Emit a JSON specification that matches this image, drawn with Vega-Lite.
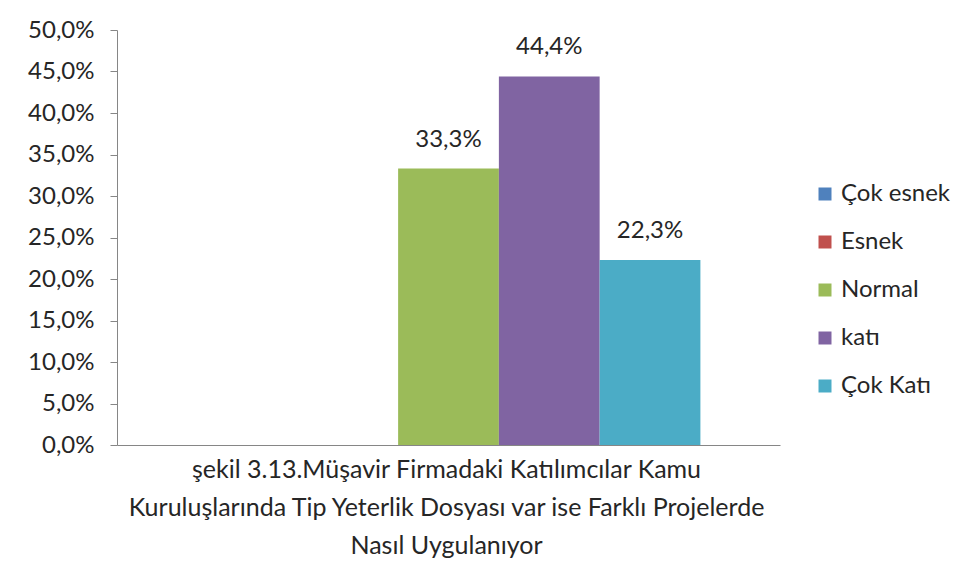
{
  "$schema": "https://vega.github.io/schema/vega-lite/v6.json",
  "width": 663,
  "height": 415,
  "autosize": {"type": "none"},
  "padding": {"left": 117, "top": 30, "right": 188, "bottom": 136},
  "background": "white",
  "config": {
    "locale": {"number": {"decimal": ",", "thousands": ".", "grouping": [3], "currency": ["", " ₺"]}},
    "view": {"stroke": null},
    "font": "Lato"
  },
  "data": {
    "values": [
      {"seri": "Çok esnek", "oran": 0},
      {"seri": "Esnek", "oran": 0},
      {"seri": "Normal", "oran": 0.333},
      {"seri": "katı", "oran": 0.444},
      {"seri": "Çok Katı", "oran": 0.223}
    ]
  },
  "encoding": {
    "x": {
      "field": "seri",
      "type": "nominal",
      "sort": ["Çok esnek", "Esnek", "Normal", "katı", "Çok Katı"],
      "scale": {"paddingInner": 0, "paddingOuter": 0.79},
      "axis": {
        "labels": false,
        "ticks": false,
        "domainColor": "#868686",
        "domainWidth": 1,
        "title": ["şekil 3.13.Müşavir Firmadaki Katılımcılar Kamu", "Kuruluşlarında Tip Yeterlik Dosyası var ise Farklı Projelerde", "Nasıl Uygulanıyor"],
        "titleFont": "Lato",
        "titleFontSize": 25,
        "titleFontWeight": "normal",
        "titleColor": "#262626",
        "titleLineHeight": 38,
        "titlePadding": 12,
        "titleX": 329
      }
    },
    "y": {
      "field": "oran",
      "type": "quantitative",
      "scale": {"domain": [0, 0.5], "nice": false},
      "axis": {
        "title": null,
        "format": ".1%",
        "values": [0, 0.05, 0.1, 0.15, 0.2, 0.25, 0.3, 0.35, 0.4, 0.45, 0.5],
        "grid": false,
        "domainColor": "#868686",
        "tickColor": "#868686",
        "tickSize": 7,
        "labelPadding": 16,
        "labelFont": "Lato",
        "labelFontSize": 24,
        "labelColor": "#262626"
      }
    }
  },
  "layer": [
    {
      "mark": {"type": "bar"},
      "encoding": {
        "color": {
          "field": "seri",
          "type": "nominal",
          "sort": ["Çok esnek", "Esnek", "Normal", "katı", "Çok Katı"],
          "scale": {
            "domain": ["Çok esnek", "Esnek", "Normal", "katı", "Çok Katı"],
            "range": ["#4F81BD", "#C0504D", "#9BBB59", "#8064A2", "#4BACC6"]
          },
          "legend": {
            "title": null,
            "orient": "none",
            "legendX": 696,
            "legendY": 152,
            "symbolType": "square",
            "symbolSize": 169,
            "symbolStrokeWidth": 0,
            "labelFont": "Lato",
            "labelFontSize": 24,
            "labelColor": "#262626",
            "labelOffset": 4,
            "rowPadding": 24
          }
        }
      }
    },
    {
      "transform": [{"filter": "datum.oran > 0"}],
      "mark": {"type": "text", "baseline": "bottom", "dy": -17, "fontSize": 24, "font": "Lato", "color": "#262626"},
      "encoding": {
        "text": {"field": "oran", "type": "quantitative", "format": ".1%"}
      }
    }
  ]
}
